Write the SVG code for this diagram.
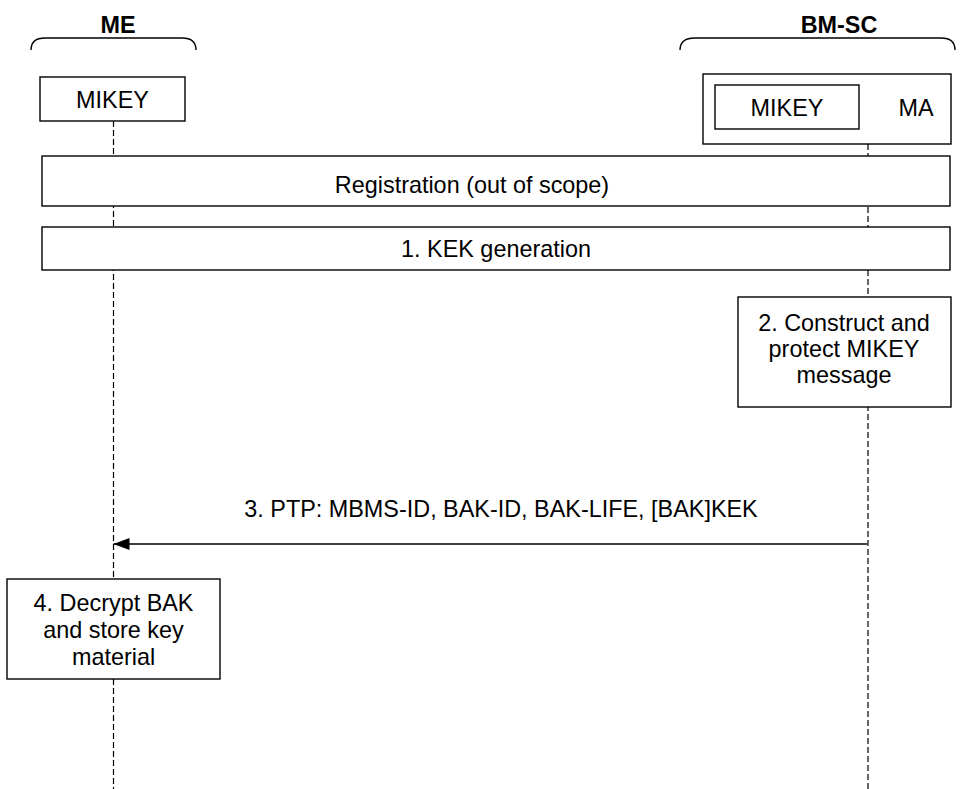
<svg xmlns="http://www.w3.org/2000/svg" width="963" height="789" viewBox="0 0 963 789">
  <defs>
    <style>
      .box { fill: #ffffff; stroke: #000000; stroke-width: 1.4; }
      .brace { fill: none; stroke: #000000; stroke-width: 1.4; }
      .life { stroke: #000000; stroke-width: 1.2; stroke-dasharray: 6 3; fill: none; }
      .msg { stroke: #000000; stroke-width: 1.3; fill: none; }
      .lbl { font-family: "Liberation Sans", Arial, sans-serif; font-size: 23.4px; fill: #000000; }
      .hdr { font-family: "Liberation Sans", Arial, sans-serif; font-size: 23.4px; font-weight: bold; fill: #000000; }
      .mid { text-anchor: middle; }
    </style>
    <marker id="arrowhead" viewBox="0 0 16 12" refX="16" refY="6" markerWidth="16" markerHeight="12" markerUnits="userSpaceOnUse" orient="auto">
      <path d="M0,0 L16,6 L0,12 Z" fill="#000000"/>
    </marker>
  </defs>

  <rect width="963" height="789" fill="#ffffff"/>

  <!-- lifelines -->
  <g id="lifelines">
    <line class="life" x1="113.5" y1="121" x2="113.5" y2="789"/>
    <line class="life" x1="868" y1="144" x2="868" y2="789"/>
  </g>

  <!-- entity headers -->
  <g id="me-header">
    <text class="hdr mid" x="118" y="33">ME</text>
    <path class="brace" d="M31,50 Q31,38 45,38 L182,38 Q196,38 196,50"/>
  </g>
  <g id="bmsc-header">
    <text class="hdr mid" x="839" y="33">BM-SC</text>
    <path class="brace" d="M680,50 Q680,38 695,38 L941,38 Q955,38 955,50"/>
  </g>

  <!-- ME side: MIKEY -->
  <g id="me-mikey">
    <rect class="box" x="40" y="77" width="145" height="44"/>
    <text class="lbl mid" x="112.5" y="107.5">MIKEY</text>
  </g>

  <!-- BM-SC side: MA containing MIKEY -->
  <g id="bmsc-ma">
    <rect class="box" x="703" y="74" width="248" height="70"/>
    <text class="lbl mid" x="916" y="115.5">MA</text>
  </g>
  <g id="bmsc-mikey">
    <rect class="box" x="715" y="85" width="144" height="44"/>
    <text class="lbl mid" x="787" y="115.5">MIKEY</text>
  </g>

  <!-- shared steps -->
  <g id="registration">
    <rect class="box" x="42" y="156" width="908" height="50"/>
    <text class="lbl mid" x="472" y="193">Registration (out of scope)</text>
  </g>
  <g id="kek-generation">
    <rect class="box" x="42" y="227" width="908" height="43"/>
    <text class="lbl mid" x="496" y="257">1. KEK generation</text>
  </g>

  <!-- step 2 -->
  <g id="construct-message">
    <rect class="box" x="738" y="297" width="213" height="110"/>
    <text class="lbl mid" x="844" y="331">2. Construct and</text>
    <text class="lbl mid" x="844" y="357">protect MIKEY</text>
    <text class="lbl mid" x="844" y="383">message</text>
  </g>

  <!-- step 4 -->
  <g id="decrypt-bak">
    <rect class="box" x="7" y="579" width="213" height="100"/>
    <text class="lbl mid" x="113.5" y="611">4. Decrypt BAK</text>
    <text class="lbl mid" x="113.5" y="638">and store key</text>
    <text class="lbl mid" x="113.5" y="665">material</text>
  </g>

  <!-- messages -->
  <g id="connectors">
    <line class="msg" x1="867" y1="544" x2="113.5" y2="544" marker-end="url(#arrowhead)"/>
    <text class="lbl mid" x="501" y="517">3. PTP: MBMS-ID, BAK-ID, BAK-LIFE, [BAK]KEK</text>
  </g>
</svg>
